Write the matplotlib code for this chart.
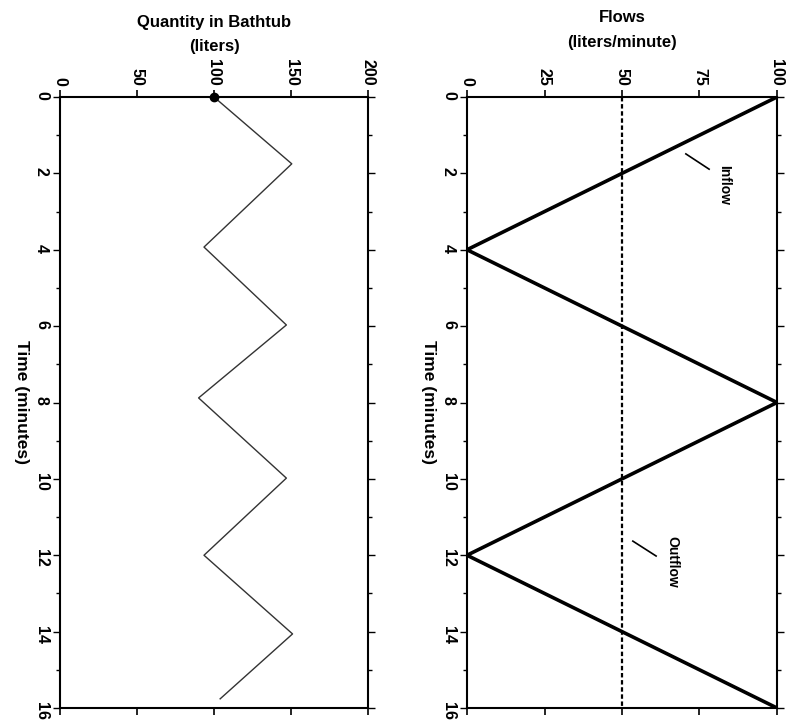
import matplotlib
matplotlib.use("Agg")
import matplotlib.pyplot as plt
from matplotlib.ticker import MultipleLocator

plt.rcParams['font.family'] = ['Liberation Sans', 'DejaVu Sans']

# ---- data ----
inflow_time = [0, 4, 8, 12, 16]
inflow_vals = [100, 0, 100, 0, 100]
outflow_time = [0, 16]
outflow_vals = [50, 50]

qty_time = [0, 1.75, 3.93, 5.97, 7.88, 9.98, 12.0, 14.06, 15.76]
qty_vals = [100, 150.5, 93.5, 147, 90, 147, 93.5, 151, 104]

flow_ticks = [0, 25, 50, 75, 100]
qty_ticks = [0, 50, 100, 150, 200]
time_ticks = [0, 2, 4, 6, 8, 10, 12, 14, 16]

W, H = 798, 727
fig = plt.figure(figsize=(W / 100, H / 100), dpi=100)

def px_axes(x0, x1, y0, y1):
    return fig.add_axes([x0 / W, 1 - y1 / H, (x1 - x0) / W, (y1 - y0) / H])

ax1 = px_axes(467, 777, 97, 708)
ax2 = px_axes(60, 368, 97, 708)

def style(ax, xmax, xticks):
    ax.set_xlim(0, xmax)
    ax.set_ylim(16, 0)
    ax.set_xticks(xticks)
    ax.set_xticklabels([str(v) for v in xticks], rotation=-90, fontsize=11.5, fontweight='bold')
    ax.set_yticks(time_ticks)
    ax.set_yticklabels([str(v) for v in time_ticks], rotation=-90, fontsize=11.5, fontweight='bold')
    ax.yaxis.set_minor_locator(MultipleLocator(1))
    ax.tick_params(axis='x', which='both', top=True, bottom=True, labeltop=True,
                   labelbottom=False, direction='out', length=5, width=1.2, pad=3)
    ax.tick_params(axis='y', which='both', left=True, right=True, labelleft=True,
                   labelright=False, direction='out', length=5, width=1.0, pad=3)
    ax.tick_params(axis='y', which='minor', length=3)
    for s in ax.spines.values():
        s.set_linewidth(1.5)
    ax.set_ylabel('Time (minutes)', rotation=-90, fontsize=12.5, fontweight='bold', labelpad=14)

style(ax1, 100, flow_ticks)
style(ax2, 200, qty_ticks)

# flows panel
ax1.plot(inflow_vals, inflow_time, color='black', lw=2.6, solid_joinstyle='miter')
ax1.plot(outflow_vals, outflow_time, color='black', lw=1.6, ls=(0, (2, 1.2)))
ax1.text(82.9, 2.29, 'Inflow', rotation=-90, ha='center', va='center',
         fontsize=10, fontweight='bold')
ax1.plot([70.6, 78.1], [1.49, 1.89], color='black', lw=1.2)
ax1.text(66.1, 12.18, 'Outflow', rotation=-90, ha='center', va='center',
         fontsize=10, fontweight='bold')
ax1.plot([53.5, 61.0], [11.63, 12.02], color='black', lw=1.2)

# quantity panel
ax2.plot(qty_vals, qty_time, color='#333333', lw=1.0)
ax2.plot([qty_vals[0]], [qty_time[0]], 'o', color='black', ms=6, clip_on=False)

fig.text(622 / W, 1 - 18 / H, 'Flows', ha='center', va='center', fontsize=12, fontweight='bold')
fig.text(622 / W, 1 - 42 / H, '(liters/minute)', ha='center', va='center', fontsize=12, fontweight='bold')
fig.text(214 / W, 1 - 22 / H, 'Quantity in Bathtub', ha='center', va='center', fontsize=12, fontweight='bold')
fig.text(214 / W, 1 - 47 / H, '(liters)', ha='center', va='center', fontsize=12, fontweight='bold')

fig.savefig('out.png', dpi=100)
